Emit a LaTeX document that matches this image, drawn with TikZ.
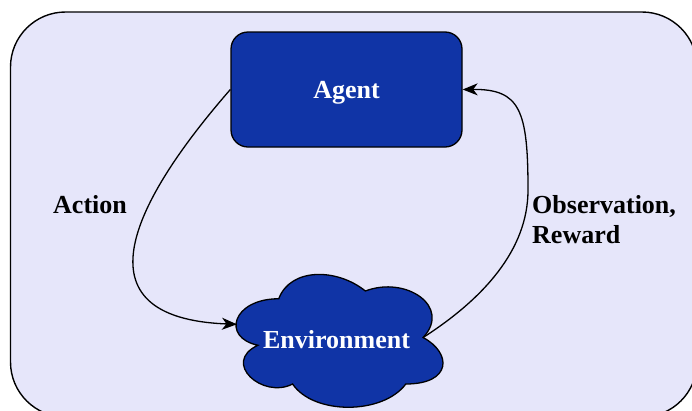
\documentclass[tikz,border=0pt]{standalone}
\usepackage{fontspec}
\setmainfont{Liberation Serif}
\usetikzlibrary{arrows.meta}
\definecolor{panelfill}{HTML}{E6E6FA}
\definecolor{deepblue}{HTML}{1034A6}
\tikzset{
  panel/.style={draw=black, line width=1.4pt, fill=panelfill, rounded corners=55pt},
  bluebox/.style={draw=black, line width=1.3pt, fill=deepblue, rounded corners=17pt,
    minimum width=231pt, minimum height=115pt, inner sep=0pt},
  bluecloud/.style={draw=black, line width=1.3pt, fill=deepblue},
  whitelabel/.style={text=white, font=\fontsize{26}{30}\selectfont\bfseries,
    text height=18pt, text depth=0pt, inner sep=0pt},
  sidelabel/.style={text=black, font=\fontsize{26}{30}\selectfont\bfseries,
    inner sep=0pt, align=left},
  flow/.style={draw=black, line width=1.3pt,
    -{Stealth[length=15pt, width=12pt, inset=4.5pt]}},
}
\begin{document}
\begin{tikzpicture}[x=1pt, y=-1pt]
  \useasboundingbox (0,0) rectangle (692,410);
  % rounded background panel (runs past the lower right corner)
  \path[panel] (10.5,12) rectangle (697,417);

  % agent box
  \node[bluebox, whitelabel] (agent) at (346.5,89.5) {Agent};

  % environment cloud
  \begin{scope}[shift={(221,260)}, xscale=231, yscale=155]
    \path[bluecloud] (0.25,0.25)
      .. controls (0.05,0.25) and (0,0.5) .. (0.16,0.55)
      .. controls (0,0.66) and (0.18,0.9) .. (0.31,0.8)
      .. controls (0.4,1) and (0.7,1) .. (0.8,0.8)
      .. controls (1,0.8) and (1,0.6) .. (0.875,0.5)
      .. controls (1,0.3) and (0.8,0.1) .. (0.625,0.2)
      .. controls (0.5,0.05) and (0.3,0.05) .. (0.25,0.25) -- cycle;
    \coordinate (envW) at (0.069,0.415);
    \coordinate (envE) at (0.875,0.5);
  \end{scope}
  \node[whitelabel] (env) at (336.5,339) {Environment};

  % edge labels (a two-line node sits on the baseline of its last line)
  \node[sidelabel, anchor=base west] (act) at (53,213) {Action};
  \node[sidelabel, anchor=base west] (obs) at (532,243) {Observation,\\Reward};

  % connectors
  \draw[flow] (agent.west) .. controls (134,200) and (72,318) .. (envW);
  \draw[flow] (envE) .. controls (483,299) and (528,250) .. (528,190)
                     .. controls (528,110) and (520,89) .. (agent.east);
\end{tikzpicture}
\end{document}
